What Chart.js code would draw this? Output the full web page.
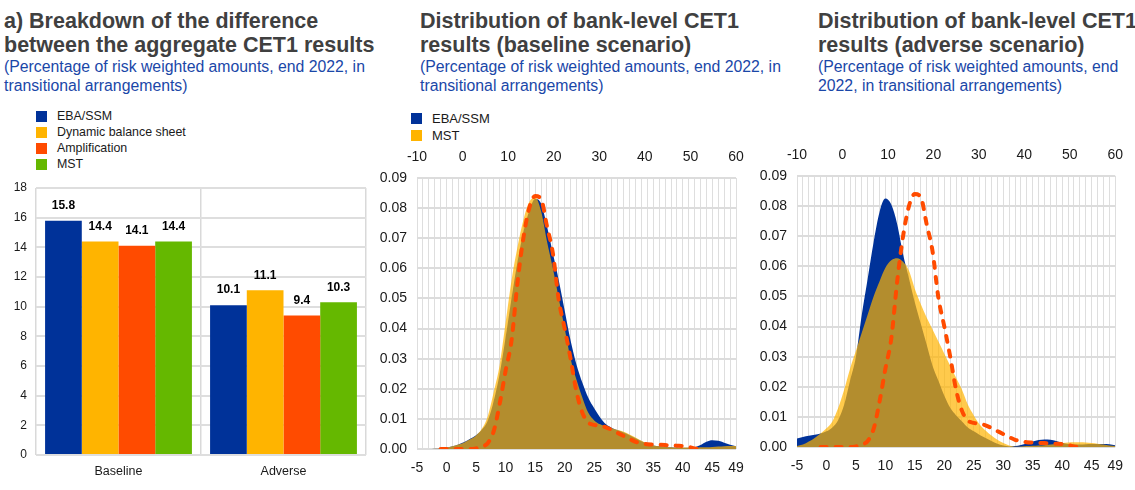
<!DOCTYPE html>
<html>
<head>
<meta charset="utf-8">
<script src="https://cdn.jsdelivr.net/npm/chart.js@4/dist/chart.umd.min.js"></script>
<style>
  body { margin: 0; background: #fff; width: 1135px; height: 490px; position: relative; overflow: hidden;
         font-family: 'Liberation Sans', Arial, sans-serif; }
  .title { position: absolute; font-weight: bold; font-size: 21.5px; line-height: 24px; color: #404040; white-space: nowrap; }
  .sub { position: absolute; font-size: 15.8px; line-height: 19px; color: #1a47a8; white-space: nowrap; }
  .legend { position: absolute; color: #1a1a1a; white-space: nowrap; }
  .legend div { position: relative; padding-left: 21px; }
  .legend span { position: absolute; left: 0; top: 2.5px; width: 11px; height: 11px; }
  canvas { position: absolute; }
</style>
</head>
<body>
<div class="title" style="left:4px; top:9px;">a) Breakdown of the difference<br>between the aggregate CET1 results</div>
<div class="sub" style="left:4px; top:57px;">(Percentage of risk weighted amounts, end 2022, in<br>transitional arrangements)</div>

<div class="title" style="left:420px; top:9px;">Distribution of bank-level CET1<br>results (baseline scenario)</div>
<div class="sub" style="left:420px; top:57px;">(Percentage of risk weighted amounts, end 2022, in<br>transitional arrangements)</div>

<div class="title" style="left:818px; top:9px;">Distribution of bank-level CET1<br>results (adverse scenario)</div>
<div class="sub" style="left:818px; top:57px;">(Percentage of risk weighted amounts, end<br>2022, in transitional arrangements)</div>

<div class="legend" id="barLegend" style="left:36px; top:108px; font-size:12.4px; line-height:16px;"></div>
<div class="legend" id="densityLegend" style="left:411px; top:110px; font-size:13px; line-height:17px;"></div>

<canvas id="barChart" width="380" height="320" style="left:0px; top:170px;"></canvas>
<canvas id="baselineChart" width="380" height="345" style="left:378px; top:140px;"></canvas>
<canvas id="adverseChart" width="377" height="345" style="left:758px; top:138px;"></canvas>

<script>
// Panel a) aggregate CET1 results
const barCategories = ['Baseline', 'Adverse'];
const ebaSsmBars = [15.8, 10.1];
const dynamicBalanceSheetBars = [14.4, 11.1];
const amplificationBars = [14.1, 9.4];
const mstBars = [14.4, 10.3];

// Distribution panels: bank-level CET1 ratio buckets (bottom axis) and top axis range
const cet1Buckets = [-5, -4, -3, -2, -1, 0, 1, 2, 3, 4, 5, 6, 7, 8, 9, 10, 11, 12, 13, 14, 15, 16, 17, 18, 19,
  20, 21, 22, 23, 24, 25, 26, 27, 28, 29, 30, 31, 32, 33, 34, 35, 36, 37, 38, 39, 40, 41, 42, 43, 44, 45, 46, 47, 48, 49];
const topAxisTicks = [-10, 0, 10, 20, 30, 40, 50, 60];
const densityTicks = [0, 0.01, 0.02, 0.03, 0.04, 0.05, 0.06, 0.07, 0.08, 0.09];

const baselineEba = [0, 0, 0, 0.0001, 0.0002,
  0.0005, 0.0009, 0.0015, 0.0023, 0.0034, 0.0046, 0.0065, 0.0095, 0.016, 0.025,
  0.037, 0.05, 0.062, 0.072, 0.079, 0.083, 0.0815, 0.074, 0.065, 0.056,
  0.046, 0.036, 0.028, 0.022, 0.017, 0.0135, 0.0105, 0.0082, 0.007, 0.0062,
  0.0055, 0.0046, 0.0036, 0.0026, 0.0018, 0.0012, 0.0009, 0.0007, 0.0006, 0.0005,
  0.0004, 0.0004, 0.0006, 0.0013, 0.0024, 0.0029, 0.0027, 0.0021, 0.0014, 0.0009];
const baselineMst = [0, 0, 0, 0.0001, 0.0002,
  0.0005, 0.0009, 0.0015, 0.0022, 0.0032, 0.0045, 0.0068, 0.011, 0.019, 0.028,
  0.042, 0.056, 0.067, 0.076, 0.082, 0.0835, 0.079, 0.069, 0.06, 0.05,
  0.04, 0.03, 0.023, 0.017, 0.012, 0.0095, 0.0082, 0.0074, 0.0069, 0.0063,
  0.0057, 0.0048, 0.0038, 0.0027, 0.0018, 0.0012, 0.0009, 0.0007, 0.0006, 0.0005,
  0.0005, 0.0005, 0.0005, 0.0006, 0.0006, 0.0007, 0.0008, 0.0009, 0.001, 0.001];
const adverseEba = [0.0028, 0.0033, 0.0037, 0.0041, 0.0045,
  0.0052, 0.0065, 0.009, 0.014, 0.022, 0.030, 0.044, 0.056, 0.068, 0.078,
  0.0825, 0.0805, 0.074, 0.064, 0.056, 0.048, 0.041, 0.034, 0.027, 0.022,
  0.017, 0.013, 0.0105, 0.0085, 0.0065, 0.0052, 0.004, 0.003, 0.002, 0.0011,
  0.0005, 0.0002, 0.0003, 0.0007, 0.0012, 0.0018, 0.0023, 0.0025, 0.0024, 0.002,
  0.0014, 0.001, 0.0008, 0.0008, 0.0009, 0.001, 0.001, 0.001, 0.0009, 0.0006];
const adverseMst = [0.0003, 0.0008, 0.0018, 0.003, 0.0045,
  0.0062, 0.0085, 0.013, 0.019, 0.026, 0.032, 0.038, 0.044, 0.05, 0.055,
  0.0595, 0.062, 0.0627, 0.0615, 0.0585, 0.0525, 0.0475, 0.043, 0.039, 0.035,
  0.031, 0.027, 0.023, 0.019, 0.014, 0.0105, 0.0075, 0.0055, 0.0038, 0.0024,
  0.0013, 0.0005, 0.0001, 0.0002, 0.0003, 0.0004, 0.0005, 0.0006, 0.0008, 0.001,
  0.0013, 0.0015, 0.0016, 0.0016, 0.0015, 0.0013, 0.0011, 0.0008, 0.0005, 0.0003];
// dashed line, same in both panels
const dashedDensity = [null, null, null, null, 0,
  0, 0, 0, 0, 0, 0.0002, 0.0008, 0.002, 0.006, 0.015,
  0.026, 0.036, 0.055, 0.07, 0.08, 0.084, 0.083, 0.074, 0.065, 0.0495,
  0.04, 0.03, 0.019, 0.012, 0.0088, 0.008, 0.0077, 0.0072, 0.0063, 0.0053,
  0.0043, 0.0033, 0.0024, 0.0019, 0.0016, 0.0015, 0.0014, 0.0013, 0.0012, 0.0011,
  0.001, 0.0007, 0.0002, 0, null, null, null, null, null, null];

const FONT = "'Liberation Sans', Arial, sans-serif";
const BLUE = '#003299';
const YELLOW = '#ffb400';
const ORANGE = '#ff4b00';
const GREEN = '#65b800';
const MST_FILL = 'rgba(255, 180, 0, 0.7)';

Chart.defaults.font.family = FONT;
Chart.defaults.color = '#1a1a1a';
Chart.defaults.animation = false;

// simple html legends
function buildLegend(id, items) {
  const box = document.getElementById(id);
  items.forEach(item => {
    const row = document.createElement('div');
    const sw = document.createElement('span');
    sw.style.background = item.color;
    row.appendChild(sw);
    row.appendChild(document.createTextNode(item.label));
    box.appendChild(row);
  });
}
buildLegend('barLegend', [
  { label: 'EBA/SSM', color: BLUE },
  { label: 'Dynamic balance sheet', color: YELLOW },
  { label: 'Amplification', color: ORANGE },
  { label: 'MST', color: GREEN }
]);
buildLegend('densityLegend', [
  { label: 'EBA/SSM', color: BLUE },
  { label: 'MST', color: YELLOW }
]);

// value labels above the bars
const barValueLabels = {
  id: 'barValueLabels',
  afterDatasetsDraw(chart) {
    const ctx = chart.ctx;
    ctx.save();
    ctx.font = 'bold 12px ' + FONT;
    ctx.fillStyle = '#000';
    ctx.textAlign = 'center';
    ctx.textBaseline = 'middle';
    chart.data.datasets.forEach((ds, i) => {
      chart.getDatasetMeta(i).data.forEach((bar, j) => {
        ctx.fillText(ds.data[j].toFixed(1), bar.x, bar.y - 15);
      });
    });
    ctx.restore();
  }
};

new Chart(document.getElementById('barChart'), {
  type: 'bar',
  data: {
    labels: barCategories,
    datasets: [
      { label: 'EBA/SSM', data: ebaSsmBars, backgroundColor: BLUE },
      { label: 'Dynamic balance sheet', data: dynamicBalanceSheetBars, backgroundColor: YELLOW },
      { label: 'Amplification', data: amplificationBars, backgroundColor: ORANGE },
      { label: 'MST', data: mstBars, backgroundColor: GREEN }
    ]
  },
  options: {
    responsive: false,
    devicePixelRatio: 1,
    categoryPercentage: 0.89,
    barPercentage: 1.0,
    layout: { padding: { top: 18, right: 14, left: 0, bottom: 0 } },
    plugins: { legend: { display: false }, tooltip: { enabled: false } },
    scales: {
      x: {
        grid: { color: '#d9d9d9', lineWidth: 1.5, drawTicks: false, offset: true },
        border: { display: false },
        ticks: { font: { size: 12.5 }, padding: 9 },
        afterFit(scale) { scale.height = 35; }
      },
      y: {
        min: 0, max: 18,
        grid: { color: '#dedede', lineWidth: 2, drawTicks: false },
        border: { display: false },
        ticks: { stepSize: 2, font: { size: 12 }, padding: 9 },
        afterFit(scale) { scale.width = 36; }
      }
    }
  },
  plugins: [barValueLabels]
});

function densityChart(canvasId, ebaValues, mstValues, rightPad) {
  new Chart(document.getElementById(canvasId), {
    type: 'line',
    data: {
      labels: cet1Buckets,
      datasets: [
        { label: 'Dashed', data: dashedDensity, order: 0, borderColor: ORANGE, borderWidth: 4,
          borderDash: [6, 9], borderCapStyle: 'round', pointRadius: 0, fill: false,
          cubicInterpolationMode: 'monotone', spanGaps: false },
        { label: 'MST', data: mstValues, order: 1, borderWidth: 0, borderColor: 'rgba(0,0,0,0)',
          backgroundColor: MST_FILL, pointRadius: 0, fill: 'origin', cubicInterpolationMode: 'monotone' },
        { label: 'EBA/SSM', data: ebaValues, order: 2, borderWidth: 0, borderColor: 'rgba(0,0,0,0)',
          backgroundColor: BLUE, pointRadius: 0, fill: 'origin', cubicInterpolationMode: 'monotone' }
      ]
    },
    options: {
      responsive: false,
      devicePixelRatio: 1,
      layout: { padding: { top: 0, right: rightPad, left: 0, bottom: 0 } },
      plugins: { legend: { display: false }, tooltip: { enabled: false } },
      scales: {
        x: {
          type: 'category',
          position: 'bottom',
          grid: { color: '#dedede', lineWidth: 1, drawTicks: false },
          border: { display: false },
          ticks: {
            autoSkip: false, maxRotation: 0, font: { size: 14 }, padding: 11,
            callback(value) {
              const v = this.getLabelForValue(value);
              return (v % 5 === 0 || v === 49) ? String(v) : '';
            }
          },
          afterFit(scale) { scale.height = 36; }
        },
        xTop: {
          type: 'linear',
          position: 'top',
          min: topAxisTicks[0], max: topAxisTicks[topAxisTicks.length - 1],
          grid: { display: false, drawTicks: false },
          border: { display: false },
          ticks: { stepSize: 10, font: { size: 14 }, padding: 12 },
          afterFit(scale) { scale.height = 38; }
        },
        y: {
          min: densityTicks[0], max: densityTicks[densityTicks.length - 1],
          grid: { color: '#dcdcdc', lineWidth: 2, drawTicks: false },
          border: { display: false },
          ticks: { stepSize: 0.01, font: { size: 14 }, padding: 10, callback: v => v.toFixed(2) },
          afterFit(scale) { scale.width = 39; }
        }
      }
    }
  });
}

densityChart('baselineChart', baselineEba, baselineMst, 22);
densityChart('adverseChart', adverseEba, adverseMst, 18);
</script>
</body>
</html>
